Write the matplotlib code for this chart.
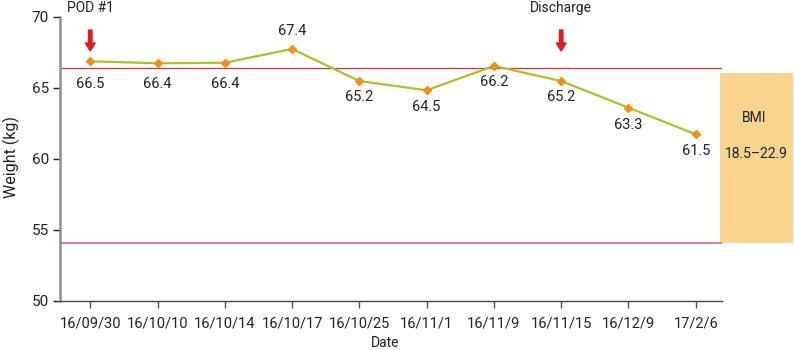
import matplotlib
matplotlib.use("Agg")
import matplotlib.pyplot as plt
from matplotlib.patches import Rectangle, FancyArrow

plt.rcParams['font.family'] = ['Roboto', 'DejaVu Sans']

dates = ["16/09/30", "16/10/10", "16/10/14", "16/10/17", "16/10/25",
         "16/11/1", "16/11/9", "16/11/15", "16/12/9", "17/2/6"]
weights = [66.88, 66.74, 66.78, 67.75, 65.49, 64.84, 66.55, 65.49, 63.61, 61.74]
weight_labels = ["66.5", "66.4", "66.4", "67.4", "65.2", "64.5", "66.2", "65.2", "63.3", "61.5"]
label_offsets_px = [-23, -21, -21, 18, -16, -17, -16, -16, -17, -17]
bmi_weight_upper = 66.41
bmi_weight_lower = 54.06
box_top = 66.06
events = {0: "POD #1", 7: "Discharge"}

fig = plt.figure(figsize=(7.94, 3.5), dpi=100)
ax = fig.add_axes([60/794, 1-301/350, 662/794, 284/350])

x = list(range(len(dates)))
ax.set_xlim(-0.45, 9.39)
ax.set_ylim(50, 70)

ax.axhline(bmi_weight_upper, color="#d8323c", lw=0.9, zorder=1)
ax.axhline(bmi_weight_lower, color="#d4868c", lw=1.5, zorder=1)

ax.plot(x, weights, color="#a9c524", lw=1.6, zorder=2)
ax.plot(x, weights, ls="none", marker="D", ms=4.5, color="#f0901a", mec="#f0901a", zorder=3)

for xi, w, lab, off in zip(x, weights, weight_labels, label_offsets_px):
    ax.annotate(lab, (xi, w), xytext=(0, off), textcoords="offset pixels",
                ha="center", va="center", fontsize=10.5, color="#222222")

# BMI box outside axes
px = 1/67.3
ax.add_patch(Rectangle((9.39 - 2*px, bmi_weight_lower), 73*px, box_top - bmi_weight_lower,
                       facecolor="#f8d48e", edgecolor="none", clip_on=False, zorder=0))
fig.text(754/794, 1-118/350, "BMI", ha="center", va="center", fontsize=10, color="#222222")
fig.text(756/794, 1-154/350, "18.5\u201322.9", ha="center", va="center", fontsize=10, color="#222222")

# event arrows and labels
for idx, name in events.items():
    xa = ax.transData.transform((idx, 60))[0] / 794
    fig.text(xa, 1-8/350, name, ha="center", va="center", fontsize=10, color="#222222")
    arr = FancyArrow(xa, 1-30/350, 0, -21/350, width=3.5/794, head_width=10/794,
                     head_length=8/350, length_includes_head=True,
                     color="#e01b24", transform=fig.transFigure, figure=fig)
    fig.patches.append(arr)

ax.set_xticks(x)
ax.set_xticklabels(dates, fontsize=10.5, color="#222222")
ax.set_yticks([50, 55, 60, 65, 70])
ax.tick_params(axis="y", labelsize=11, colors="#222222", length=5, width=1, pad=3)
ax.tick_params(axis="x", length=5, width=1, pad=6, color="#555555")
for t in ax.get_yticklines():
    t.set_color("#555555")

for s in ["top", "right"]:
    ax.spines[s].set_visible(False)
ax.spines["left"].set_color("#909090")
ax.spines["left"].set_linewidth(1.8)
ax.spines["bottom"].set_color("#444444")
ax.spines["bottom"].set_linewidth(1.0)

fig.text(385/794, 1-343/350, "Date", ha="center", va="center", fontsize=10, color="#222222")
fig.text(11/794, 1-157/350, "Weight (kg)", ha="center", va="center", rotation=90,
         fontsize=11.5, color="#222222")

fig.savefig("out.png", dpi=100)
